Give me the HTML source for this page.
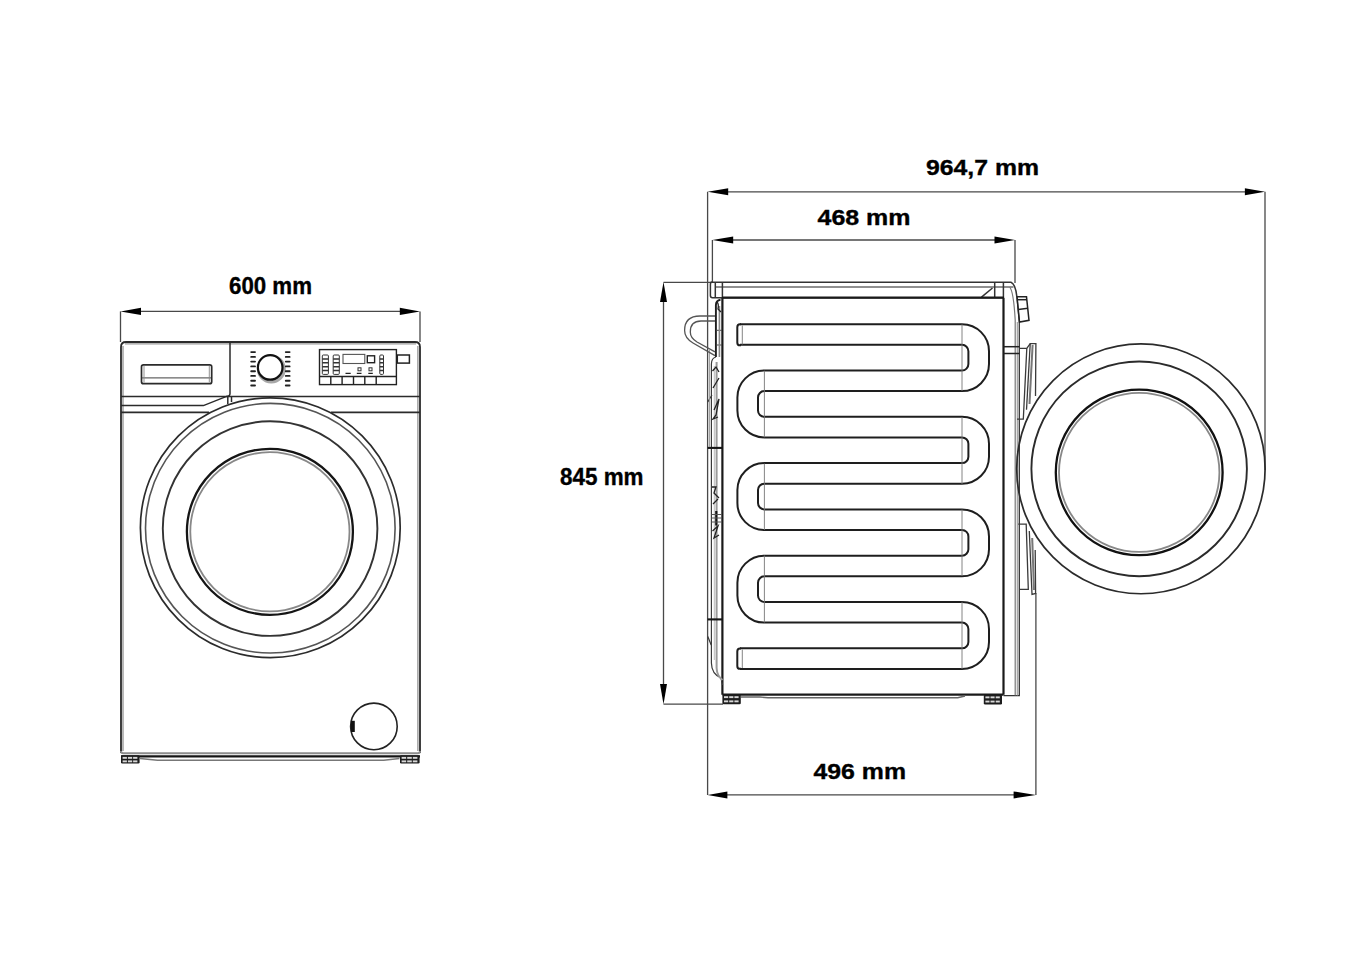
<!DOCTYPE html>
<html><head><meta charset="utf-8"><style>
html,body{margin:0;padding:0;background:#fff;width:1357px;height:953px;overflow:hidden}
svg{display:block}
text{font-family:"Liberation Sans",sans-serif;font-weight:bold;fill:#000;stroke:#000;stroke-width:0.35px}
</style></head><body>
<svg width="1357" height="953" viewBox="0 0 1357 953">
<rect width="1357" height="953" fill="#fff"/>

<!-- ================= FRONT VIEW ================= -->
<g id="front">
  <!-- dimension 600 -->
  <g stroke="#484848" stroke-width="1.3" fill="none">
    <line x1="138" y1="311.4" x2="402" y2="311.4"/>
    <line x1="120.5" y1="311.4" x2="120.5" y2="342"/>
    <line x1="420" y1="311.4" x2="420" y2="342"/>
  </g>
  <polygon points="120.5,311.4 141,307.7 141,315.1" fill="#000"/>
  <polygon points="420,311.4 399.8,307.7 399.8,315.1" fill="#000"/>
  <text x="229" y="294" font-size="23" textLength="83" lengthAdjust="spacingAndGlyphs">600 mm</text>

  <!-- body -->
  <g fill="none" stroke="#2b2b2b" stroke-width="1.8">
    <path d="M121 753 V347 Q121 342 126 342 H415 Q420 342 420 347 V753"/>
    <path d="M121 751 Q121 753.2 123.5 753.2 H417.5 Q420 753.2 420 751" stroke="#8d8d8d" stroke-width="2"/>
    <line x1="125" y1="343.9" x2="416" y2="343.9" stroke="#9a9a9a" stroke-width="1.3"/>
  </g>
  <g fill="none" stroke="#8a8a8a" stroke-width="1.2">
    <line x1="123" y1="346" x2="123" y2="751"/>
    <line x1="417.9" y1="346" x2="417.9" y2="751"/>
  </g>
  <!-- panel -->
  <g fill="none" stroke="#2b2b2b" stroke-width="1.5">
    <path d="M230 342 V393.5 Q230 396.5 226 396.5"/>
    <line x1="121" y1="396.6" x2="420" y2="396.6"/>
    <path d="M121 405.6 H203.4 L226 396.6"/>
    <path d="M121 412.4 H209" stroke-width="1.8"/>
    <path d="M331 412.4 H420" stroke-width="1.8"/>
    <line x1="227.8" y1="397" x2="227.8" y2="404"/>
    <line x1="231.5" y1="397" x2="231.5" y2="402"/>
  </g>
  <!-- drawer handle -->
  <g fill="none" stroke="#2b2b2b">
    <rect x="141.5" y="364.8" width="70.2" height="18.9" rx="2" stroke-width="1.7"/>
    <line x1="142" y1="377.8" x2="211" y2="377.8" stroke-width="1.2" stroke="#666"/>
    <path d="M144 366 V382.5 M209.3 366 V382.5" stroke-width="0.9" stroke="#888"/>
  </g>
  <!-- knob -->
  <circle cx="271.3" cy="369" r="13" fill="none" stroke="#a8a8a8" stroke-width="3"/>
  <circle cx="270.2" cy="367.4" r="12.3" fill="#fff" stroke="#111" stroke-width="2.2"/>
  <g stroke="#222" stroke-width="1.9" stroke-linecap="round">
    <path d="M251.2 352.1H255 M251.2 356.9H255 M251.2 361.6H255 M251.2 366.4H255 M251.2 371.2H255 M251.2 375.9H255 M251.2 380.7H255 M251.2 385.5H255"/>
    <path d="M285.8 352.1H289.6 M285.8 356.9H289.6 M285.8 361.6H289.6 M285.8 366.4H289.6 M285.8 371.2H289.6 M285.8 375.9H289.6 M285.8 380.7H289.6 M285.8 385.5H289.6"/>
  </g>
  <!-- display panel -->
  <g fill="none" stroke="#222" stroke-width="1.4">
    <rect x="319.5" y="349.6" width="76.9" height="35"/>
    <line x1="319.5" y1="376.5" x2="396.4" y2="376.5"/>
    <path d="M330.8 376.5V384.6 M342.1 376.5V384.6 M353.5 376.5V384.6 M364.8 376.5V384.6 M376.2 376.5V384.6"/>
    <rect x="397.3" y="355" width="12.1" height="8.1" stroke-width="1.5"/>
    <rect x="367.3" y="355.8" width="7.3" height="6.9" stroke-width="1.4"/>
    <rect x="343" y="354.4" width="21.8" height="9.1" stroke="#555" stroke-width="1.1"/>
  </g>
  <g fill="none" stroke="#333" stroke-width="1">
    <rect x="322.3" y="355" width="6.1" height="19.4" rx="1"/>
    <rect x="333.2" y="355" width="6.1" height="19.4" rx="1"/>
    <rect x="379.8" y="355" width="3.7" height="19.4" rx="1"/>
    <path d="M322.3 358.9H328.4 M322.3 362.8H328.4 M322.3 366.7H328.4 M322.3 370.6H328.4" stroke-width="1.5"/>
    <path d="M333.2 358.9H339.3 M333.2 362.8H339.3 M333.2 366.7H339.3 M333.2 370.6H339.3" stroke-width="1.5"/>
    <path d="M379.8 358.9H383.5 M379.8 362.8H383.5 M379.8 366.7H383.5 M379.8 370.6H383.5" stroke-width="1.5"/>
    <rect x="358" y="367.8" width="3" height="3"/>
    <rect x="369" y="367.8" width="3" height="3"/>
  </g>
  <g stroke="#222" stroke-width="1.3">
    <path d="M345.5 373.3H350.7 M356.8 373.3H361.5 M368.3 373.3H372.8"/>
  </g>

  <!-- door -->
  <g fill="none">
    <circle cx="270.3" cy="527.8" r="129.9" stroke="#2b2b2b" stroke-width="1.7"/>
    <circle cx="270.3" cy="528.2" r="124.8" stroke="#555" stroke-width="1.6"/>
    <circle cx="270.1" cy="528.6" r="107.3" stroke="#333" stroke-width="1.9"/>
    <circle cx="269.9" cy="531.8" r="83" stroke="#151515" stroke-width="2.3"/>
    <circle cx="269.9" cy="531.8" r="79.6" stroke="#888" stroke-width="1.8"/>
  </g>
  <!-- filter -->
  <circle cx="373.9" cy="726.4" r="23.3" fill="none" stroke="#222" stroke-width="1.6"/>
  <path d="M351 720.8 H354.8 V732 H351 Z" fill="#111"/>
  <!-- bottom -->
  <g fill="none" stroke="#2b2b2b">
    <line x1="121" y1="756.3" x2="420" y2="756.3" stroke="#151515" stroke-width="2.2"/>
    <path d="M140 758.6 L157.5 760.3 H383.7 L399.5 758.6" stroke="#777" stroke-width="1.5"/>
  </g>
  <g><rect x="121" y="755.3" width="18.6" height="8.3" rx="1.3" fill="#1c1c1c"/><rect x="122.6" y="756.9" width="4.3" height="1.9" fill="#d8d8d8"/><rect x="127.9" y="756.9" width="4.3" height="1.9" fill="#d8d8d8"/><rect x="133.1" y="756.9" width="4.3" height="1.9" fill="#d8d8d8"/><rect x="122.6" y="760.4" width="4.3" height="1.9" fill="#d8d8d8"/><rect x="127.9" y="760.4" width="4.3" height="1.9" fill="#d8d8d8"/><rect x="133.1" y="760.4" width="4.3" height="1.9" fill="#d8d8d8"/><rect x="400" y="755.3" width="19.6" height="8.3" rx="1.3" fill="#1c1c1c"/><rect x="401.6" y="756.9" width="4.6" height="1.9" fill="#d8d8d8"/><rect x="407.2" y="756.9" width="4.6" height="1.9" fill="#d8d8d8"/><rect x="412.8" y="756.9" width="4.6" height="1.9" fill="#d8d8d8"/><rect x="401.6" y="760.4" width="4.6" height="1.9" fill="#d8d8d8"/><rect x="407.2" y="760.4" width="4.6" height="1.9" fill="#d8d8d8"/><rect x="412.8" y="760.4" width="4.6" height="1.9" fill="#d8d8d8"/></g>
</g>

<!-- ================= SIDE VIEW ================= -->
<g id="side">
  <!-- dimension lines -->
  <g stroke="#484848" stroke-width="1.3" fill="none">
    <line x1="725" y1="191.8" x2="1247" y2="191.8"/>
    <line x1="707.6" y1="191.8" x2="707.6" y2="795"/>
    <line x1="1265" y1="191.8" x2="1265" y2="470"/>
    <line x1="730" y1="240" x2="997" y2="240"/>
    <line x1="712.4" y1="240" x2="712.4" y2="282"/>
    <line x1="1015" y1="240" x2="1015" y2="283"/>
    <line x1="663.5" y1="300" x2="663.5" y2="686"/>
    <line x1="663.5" y1="282.3" x2="712" y2="282.3"/>
    <line x1="663.5" y1="704.2" x2="723" y2="704.2"/>
    <line x1="725" y1="794.9" x2="1017" y2="794.9"/>
    <line x1="1035.9" y1="593" x2="1035.9" y2="795"/>
  </g>
  <g fill="#000">
    <polygon points="707.6,191.8 728.2,188.3 728.2,195.3"/>
    <polygon points="1265,191.8 1244.9,188.3 1244.9,195.3"/>
    <polygon points="712.4,240 733.2,236.5 733.2,243.5"/>
    <polygon points="1015,240 994.5,236.5 994.5,243.5"/>
    <polygon points="663.5,282 660,302.1 667,302.1"/>
    <polygon points="663.5,704.2 660,684 667,684"/>
    <polygon points="707.6,794.9 727.4,791.4 727.4,798.4"/>
    <polygon points="1035.9,794.9 1013.6,791.4 1013.6,798.4"/>
  </g>
  <text x="926" y="175" font-size="22" textLength="113" lengthAdjust="spacingAndGlyphs">964,7 mm</text>
  <text x="817.5" y="224.8" font-size="21.5" textLength="93" lengthAdjust="spacingAndGlyphs">468 mm</text>
  <text x="813.5" y="778.7" font-size="21.5" textLength="92.5" lengthAdjust="spacingAndGlyphs">496 mm</text>
  <text x="560" y="484.7" font-size="23" textLength="83.5" lengthAdjust="spacingAndGlyphs">845 mm</text>

  <!-- top panel -->
  <g fill="none" stroke="#333" stroke-width="1.5">
    <path d="M712 282.3 H1011 Q1015.5 284 1016.9 296.9"/>
    <line x1="715" y1="287" x2="1013.5" y2="287" stroke="#6a6a6a"/>
    <path d="M712 282 Q710.4 282 710.4 284.5 V295.5 Q710.4 297.7 712.5 297.7 H1003.4" />
    <line x1="715.3" y1="283" x2="715.3" y2="297"/>
    <line x1="722.4" y1="283" x2="722.4" y2="297"/>
    <line x1="994.7" y1="282" x2="994.7" y2="297.5"/>
    <line x1="1003.4" y1="282" x2="1003.4" y2="297.5"/>
    <line x1="981.5" y1="297.2" x2="992.5" y2="288"/>
  </g>
  <line x1="722" y1="297.7" x2="1004" y2="297.7" stroke="#1a1a1a" stroke-width="2.2"/>
  <!-- body -->
  <g fill="none" stroke="#1a1a1a" stroke-width="2.2">
    <line x1="722.4" y1="297.7" x2="722.4" y2="694.7"/>
    <line x1="1003.5" y1="297.7" x2="1003.5" y2="694.7"/>
    <line x1="722.4" y1="694.7" x2="1003.5" y2="694.7"/>
  </g>
  <!-- right strip -->
  <g fill="none" stroke="#333" stroke-width="1.3">
    <path d="M1016.9 296.9 L1019.3 322 V695.6 H1003.5"/>
    <path d="M1009.7 287.2 Q1013.5 291 1015.2 320 V695.6" stroke="#777" stroke-width="1.2"/>
    <line x1="1017.3" y1="322" x2="1017.3" y2="695.6" stroke="#999" stroke-width="1.1"/>
  </g>
  <g fill="none" stroke="#222" stroke-width="1.5">
    <polygon points="1017,296.8 1026.5,296.8 1029,320.3 1019.5,322"/>
    <line x1="1017.5" y1="299.7" x2="1027" y2="299.7"/>
    <line x1="1018.3" y1="309.5" x2="1028" y2="308.3"/>
    <line x1="1003.5" y1="346.7" x2="1019.5" y2="346.7"/>
    <line x1="1003.5" y1="353.5" x2="1019.5" y2="353.5"/>
  </g>
  <!-- hinges -->
  <g fill="none" stroke="#3a3a3a" stroke-width="1.3">
    <path d="M1019.7 348.4 H1026.8 L1030.2 343.6 H1035.9 L1035.5 396"/>
    <path d="M1030.2 343.6 L1026.5 409.7"/>
    <path d="M1026.8 348.4 L1023.3 419.2 H1017"/>
    <line x1="1032.6" y1="345" x2="1029.5" y2="404" stroke="#777" stroke-width="2"/>
    <path d="M1018.3 524.2 H1026.2 L1028.3 589.3 H1019.7"/>
    <path d="M1029.3 531 L1032 594.5 L1035.6 593.5 L1035.2 550"/>
    <line x1="1032.2" y1="538" x2="1034" y2="590" stroke="#777" stroke-width="2"/>
  </g>
  <!-- door (open, seen from front) -->
  <g fill="none">
    <ellipse cx="1140.9" cy="468.85" rx="124.2" ry="124.9" stroke="#2b2b2b" stroke-width="1.7"/>
    <ellipse cx="1139.15" cy="468.85" rx="107.75" ry="107.35" stroke="#2b2b2b" stroke-width="1.9"/>
    <ellipse cx="1139.2" cy="472.4" rx="83.4" ry="82.8" stroke="#111" stroke-width="2.3"/>
    <ellipse cx="1139.2" cy="472.4" rx="80.2" ry="79.5" stroke="#888" stroke-width="1.8"/>
  </g>

  <!-- serpentine -->
  <g fill="none" stroke-linecap="butt" stroke-linejoin="round">
    <path d="M 740 334.5 H 962.0 A 16.7 16.7 0 0 1 978.7 351.2 V 364.1 A 16.7 16.7 0 0 1 962.0 380.8 H 764.4 A 16.7 16.7 0 0 0 747.7 397.5 V 410.4 A 16.7 16.7 0 0 0 764.4 427.1 H 962.0 A 16.7 16.7 0 0 1 978.7 443.8 V 456.7 A 16.7 16.7 0 0 1 962.0 473.4 H 764.4 A 16.7 16.7 0 0 0 747.7 490.1 V 503.0 A 16.7 16.7 0 0 0 764.4 519.7 H 962.0 A 16.7 16.7 0 0 1 978.7 536.4 V 549.3 A 16.7 16.7 0 0 1 962.0 566.0 H 764.4 A 16.7 16.7 0 0 0 747.7 582.7 V 595.6 A 16.7 16.7 0 0 0 764.4 612.3 H 962.0 A 16.7 16.7 0 0 1 978.7 629.0 V 641.9 A 16.7 16.7 0 0 1 962.0 658.6 H 740" stroke="#1e1e1e" stroke-width="22.6"/>
    <path d="M 739.9 334.5 H 962.0 A 16.7 16.7 0 0 1 978.7 351.2 V 364.1 A 16.7 16.7 0 0 1 962.0 380.8 H 764.4 A 16.7 16.7 0 0 0 747.7 397.5 V 410.4 A 16.7 16.7 0 0 0 764.4 427.1 H 962.0 A 16.7 16.7 0 0 1 978.7 443.8 V 456.7 A 16.7 16.7 0 0 1 962.0 473.4 H 764.4 A 16.7 16.7 0 0 0 747.7 490.1 V 503.0 A 16.7 16.7 0 0 0 764.4 519.7 H 962.0 A 16.7 16.7 0 0 1 978.7 536.4 V 549.3 A 16.7 16.7 0 0 1 962.0 566.0 H 764.4 A 16.7 16.7 0 0 0 747.7 582.7 V 595.6 A 16.7 16.7 0 0 0 764.4 612.3 H 962.0 A 16.7 16.7 0 0 1 978.7 629.0 V 641.9 A 16.7 16.7 0 0 1 962.0 658.6 H 739.9" stroke="#fff" stroke-width="18.6"/>
  </g>
  <g stroke="#777" stroke-width="0.9" fill="none">
    <path d="M962 324.3 V391 M962 417 V484 M962 509.5 V576 M962 601.7 V669"/>
    <path d="M764.4 370.7 V437.3 M764.4 463.6 V530 M764.4 555.5 V622.5"/>
    <path d="M742.3 325.5 V344.5 M742.3 649.5 V668"/>
  </g>
  <g stroke="#1e1e1e" stroke-width="2" fill="none">
    <path d="M741 324.3 H740 Q737.3 324.3 737.3 327.2 V342.4 Q737.3 345.3 740 345.3 H741"/>
    <path d="M741 648.5 H740 Q737.3 648.5 737.3 651.4 V665.9 Q737.3 668.8 740 668.8 H741"/>
  </g>

  <!-- left door strip -->
  <g fill="none" stroke="#3a3a3a" stroke-width="1.2">
    <path d="M720.5 299.8 Q716 300.5 715.9 305 V357" stroke="#1e1e1e" stroke-width="1.9"/>
    <path d="M715.9 357 Q711.5 358 711.4 364 V663 Q711.6 674 721 678 L722.6 685"/>
    <path d="M716 330.3 H722 M716 345 H722" stroke="#444" stroke-width="1"/>
    <path d="M716.6 362 V668 Q717 676 722.5 680" stroke="#9a9a9a" stroke-width="2"/>
    <line x1="719.4" y1="306" x2="719.4" y2="357" stroke="#888" stroke-width="1.6"/>
    <line x1="714.3" y1="366" x2="714.3" y2="660" stroke="#bbb" stroke-width="1"/>
    <path d="M707.6 447.9 H722.4" stroke="#151515" stroke-width="2.1"/>
    <path d="M707.6 619.4 H722.4" stroke="#151515" stroke-width="2.1"/>
    <path d="M707.8 636.5 L711.2 645"/>
    <path d="M707.8 402 Q710 398 712 395"/>
    <path d="M709.5 350 V447" stroke="#999" stroke-width="0.9"/>
  </g>
  <!-- latch clutter -->
  <g fill="none" stroke="#222" stroke-width="1.3">
    <path d="M717 302 Q719 304 718 309 L721 312"/>
    <path d="M712.5 371 L716 367 L719 372 M713 388 L719 378 M714 410 L719 399 L716 415 L713 419 L718 417"/>
    <path d="M712 487 H716 L714 493 L719 498 M713 504 L718 499 M712.5 531 L718 526 L714 538 L719 535"/>
    <line x1="716.3" y1="511" x2="716.3" y2="525.5" stroke="#111" stroke-width="2.2"/>
    <path d="M711.5 514.5 H722 M711.5 518 H722 M711.5 522 H722" stroke="#555" stroke-width="1"/>
  </g>
  <!-- hook -->
  <g fill="none" stroke="#555" stroke-width="1.3">
    <path d="M715 316 H700 Q684.6 316 684.6 330.5 Q684.6 338 693 343 L715 355.6"/>
    <path d="M715 321 H701 Q690.3 321 690.3 332 Q690.3 338 697 342 L715 351.9"/>
  </g>
  <!-- feet & base -->
  <g><rect x="722.4" y="694.6" width="18.4" height="9.6" rx="1.3" fill="#1c1c1c"/><rect x="724.0" y="696.2" width="4.2" height="1.9" fill="#d8d8d8"/><rect x="729.2" y="696.2" width="4.2" height="1.9" fill="#d8d8d8"/><rect x="734.4" y="696.2" width="4.2" height="1.9" fill="#d8d8d8"/><rect x="724.0" y="700.4" width="4.2" height="1.9" fill="#d8d8d8"/><rect x="729.2" y="700.4" width="4.2" height="1.9" fill="#d8d8d8"/><rect x="734.4" y="700.4" width="4.2" height="1.9" fill="#d8d8d8"/><rect x="983.8" y="694.8" width="18.2" height="9.7" rx="1.3" fill="#1c1c1c"/><rect x="985.4" y="696.4" width="4.1" height="1.9" fill="#d8d8d8"/><rect x="990.5" y="696.4" width="4.1" height="1.9" fill="#d8d8d8"/><rect x="995.7" y="696.4" width="4.1" height="1.9" fill="#d8d8d8"/><rect x="985.4" y="700.6" width="4.1" height="1.9" fill="#d8d8d8"/><rect x="990.5" y="700.6" width="4.1" height="1.9" fill="#d8d8d8"/><rect x="995.7" y="700.6" width="4.1" height="1.9" fill="#d8d8d8"/></g>
  <path d="M741 697 H760 L768 697.8 H957.7 L965 696" fill="none" stroke="#666" stroke-width="1.4"/>
</g>
</svg>
</body></html>
